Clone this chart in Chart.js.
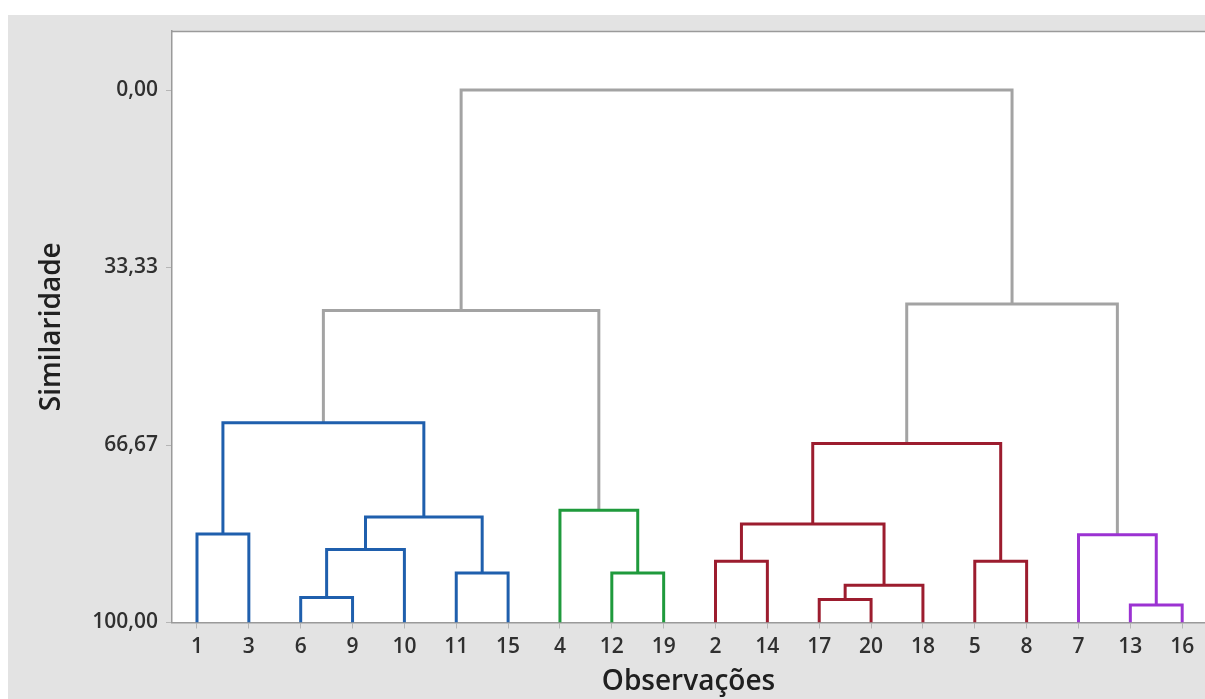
<!DOCTYPE html>
<html>
<head>
<meta charset="utf-8">
<script src="https://cdn.jsdelivr.net/npm/chart.js@4.4.1/dist/chart.umd.min.js"></script>
<style>
  html, body { margin: 0; padding: 0; background: #ffffff; }
  #wrap { position: absolute; left: 8px; top: 15px; width: 1197px; height: 684px; }
</style>
</head>
<body>
<div id="wrap"><canvas id="dendro" width="1197" height="684"></canvas></div>
<script>
// Leaf order along the horizontal axis
const observations = [1, 3, 6, 9, 10, 11, 15, 4, 12, 19, 2, 14, 17, 20, 18, 5, 8, 7, 13, 16];

// Agglomeration steps: "Cn" refers to the cluster formed at step n (1-based)
const mergeFirst  = ['1', '6', 'C2', '11', 'C3', 'C1', '12', '4', 'C6', '2', '17', 'C11', 'C10', '5', 'C13', '13', '7', 'C15', 'C9'];
const mergeSecond = ['3', '9', '10', '15', 'C4', 'C5', '19', 'C7', 'C8', '14', '20', '18', 'C12', '8', 'C14', '16', 'C16', 'C17', 'C18'];
const mergeSimilarity = [83.4, 95.3, 86.3, 90.7, 80.2, 62.5, 90.7, 78.9, 41.4, 88.5, 95.7, 93.0, 81.5, 88.5, 66.4, 96.7, 83.5, 40.2, 0.0];
const mergeGroup = ['A', 'A', 'A', 'A', 'A', 'A', 'B', 'B', '-', 'C', 'C', 'C', 'C', 'C', 'C', 'D', 'D', '-', '-'];

// Similarity axis ticks
const similarityTicks = [0, 33.33, 66.67, 100];

const groupColors = { A: '#1f5fad', B: '#1f9a3c', C: '#9c1c2e', D: '#9b32d2', '-': '#a3a3a3' };

// Resolve horizontal position and height of each node
function nodeInfo(id) {
  if (id.startsWith('C')) {
    const k = parseInt(id.slice(1), 10) - 1;
    const a = nodeInfo(mergeFirst[k]);
    const b = nodeInfo(mergeSecond[k]);
    return { x: (a.x + b.x) / 2, y: mergeSimilarity[k] };
  }
  return { x: observations.indexOf(parseInt(id, 10)), y: 100 };
}

const datasets = mergeFirst.map((first, k) => {
  const a = nodeInfo(first);
  const b = nodeInfo(mergeSecond[k]);
  const h = mergeSimilarity[k];
  const color = groupColors[mergeGroup[k]];
  return {
    data: [{ x: a.x, y: a.y }, { x: a.x, y: h }, { x: b.x, y: h }, { x: b.x, y: b.y }],
    borderColor: color,
    borderWidth: 3,
    borderJoinStyle: 'miter',
    borderCapStyle: 'butt',
    pointRadius: 0,
    showLine: true,
    fill: false,
    tension: 0
  };
});

const frame = {
  id: 'frame',
  beforeDraw(chart) {
    const { ctx, chartArea: a, width, height } = chart;
    ctx.save();
    ctx.fillStyle = '#e3e3e3';
    ctx.fillRect(0, 0, width, height);
    ctx.fillStyle = '#ffffff';
    ctx.fillRect(a.left, a.top, a.right - a.left, a.bottom - a.top);
    ctx.restore();
  },
  afterDraw(chart) {
    const { ctx, chartArea: a } = chart;
    ctx.save();
    ctx.strokeStyle = '#9a9a9a';
    ctx.lineWidth = 1.5;
    ctx.beginPath();
    ctx.moveTo(a.left, a.top + 0.5);
    ctx.lineTo(a.right, a.top + 0.5);
    ctx.stroke();
    ctx.restore();
  }
};

const FONT = "'Open Sans', 'Noto Sans', sans-serif";

new Chart(document.getElementById('dendro'), {
  type: 'scatter',
  data: { datasets },
  plugins: [frame],
  options: {
    responsive: false,
    devicePixelRatio: 1,
    animation: false,
    layout: { padding: { top: 16, right: 0, bottom: 0, left: 0 } },
    plugins: { legend: { display: false }, tooltip: { enabled: false } },
    scales: {
      x: {
        type: 'linear',
        position: 'bottom',
        min: -0.482,
        max: 19.44,
        afterBuildTicks(scale) { scale.ticks = observations.map((_, i) => ({ value: i })); },
        afterFit(scale) {
          scale.height = 76.5;
          scale.paddingLeft = 0;
          scale.paddingRight = 0;
        },
        ticks: {
          autoSkip: false,
          maxRotation: 0,
          padding: 6,
          color: '#303030',
          font: { family: FONT, size: 21, weight: '600' },
          callback: (v) => String(observations[v])
        },
        grid: { drawOnChartArea: false, drawTicks: true, tickLength: 6, color: '#b5b5b5' },
        border: { display: true, color: '#9a9a9a', width: 1.5 },
        title: {
          display: true,
          text: 'Observações',
          color: '#202020',
          font: { family: FONT, size: 28, weight: '600' },
          padding: { top: 0, bottom: 0 }
        }
      },
      y: {
        type: 'linear',
        reverse: true,
        min: -11.08,
        max: 100,
        afterBuildTicks(scale) { scale.ticks = similarityTicks.map((v) => ({ value: v })); },
        afterFit(scale) {
          scale.width = 164;
          scale.paddingTop = 0;
          scale.paddingBottom = 0;
        },
        ticks: {
          padding: 8,
          color: '#303030',
          font: { family: FONT, size: 21, weight: '600' },
          callback: (v) => v.toFixed(2).replace('.', ',')
        },
        grid: { drawOnChartArea: false, drawTicks: true, tickLength: 6, color: '#b5b5b5' },
        border: { display: true, color: '#9a9a9a', width: 1.5 },
        title: {
          display: true,
          text: 'Similaridade',
          color: '#202020',
          font: { family: FONT, size: 28, weight: '600' },
          padding: { top: 27, bottom: 0 }
        }
      }
    }
  }
});
</script>
</body>
</html>
